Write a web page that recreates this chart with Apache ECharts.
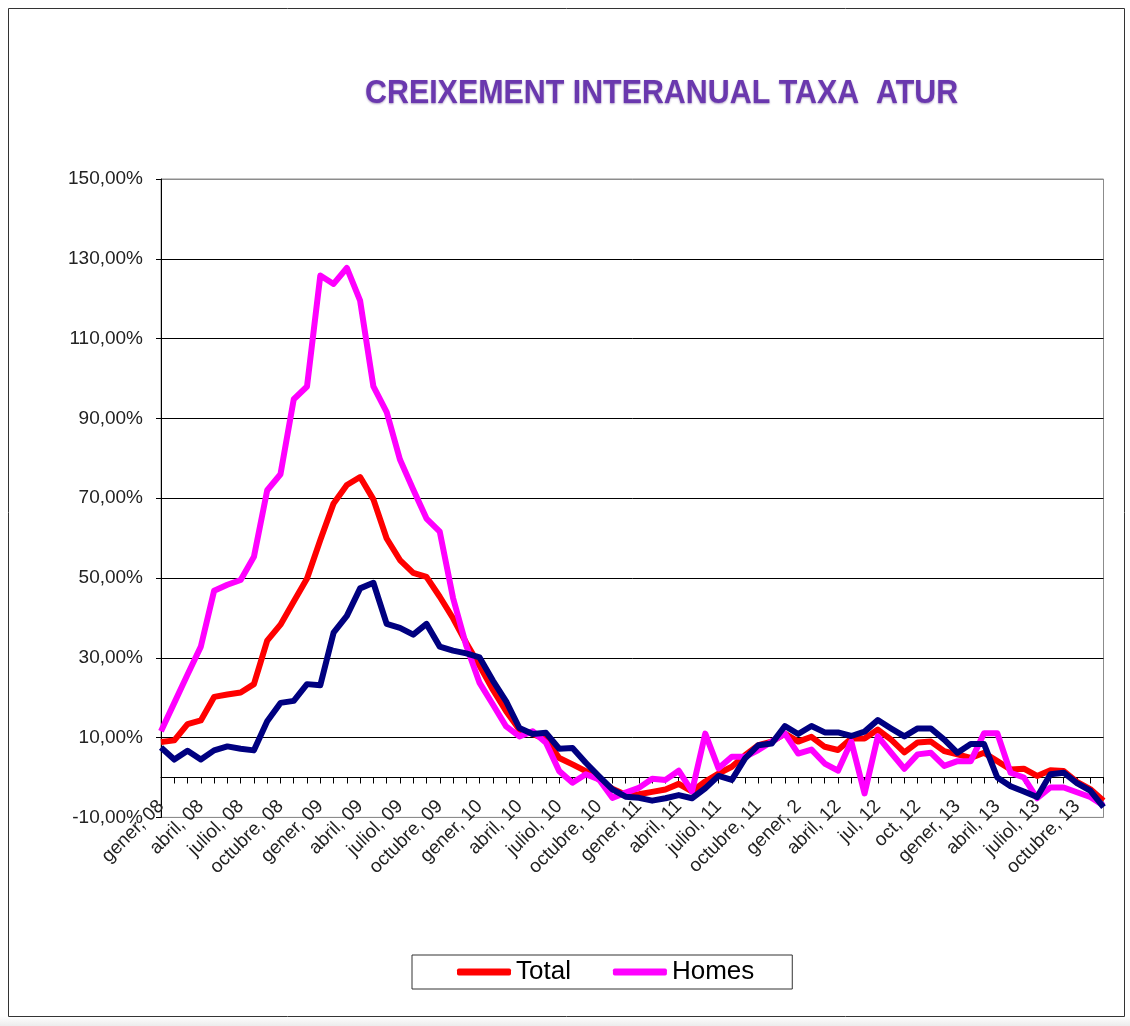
<!DOCTYPE html>
<html>
<head>
<meta charset="utf-8">
<script src="https://cdn.jsdelivr.net/npm/echarts@6/dist/echarts.min.js"></script>
<style>
html,body{margin:0;padding:0;background:#fff;}
#chart{width:1130px;height:1026px;}
</style>
</head>
<body>
<div id="chart"></div>
<script>
var chartTitle = 'CREIXEMENT INTERANUAL TAXA  ATUR';

var categories = [
  'gener, 08','febrer, 08','març, 08','abril, 08','maig, 08','juny, 08','juliol, 08','agost, 08','setembre, 08','octubre, 08','novembre, 08','desembre, 08',
  'gener, 09','febrer, 09','març, 09','abril, 09','maig, 09','juny, 09','juliol, 09','agost, 09','setembre, 09','octubre, 09','novembre, 09','desembre, 09',
  'gener, 10','febrer, 10','març, 10','abril, 10','maig, 10','juny, 10','juliol, 10','agost, 10','setembre, 10','octubre, 10','novembre, 10','desembre, 10',
  'gener, 11','febrer, 11','març, 11','abril, 11','maig, 11','juny, 11','juliol, 11','agost, 11','setembre, 11','octubre, 11','novembre, 11','desembre, 11',
  'gener, 2','febrer, 12','març, 12','abril, 12','maig, 12','juny, 12','jul, 12','agost, 12','setembre, 12','oct, 12','novembre, 12','desembre, 12',
  'gener, 13','febrer, 13','març, 13','abril, 13','maig, 13','juny, 13','juliol, 13','agost, 13','setembre, 13','octubre, 13','novembre, 13','desembre, 13'
];

var seriesNames = ['Total', 'Homes', 'Dones'];

var totalValues = [
  8.9, 9.3, 13.4, 14.3, 20.2, 20.8, 21.3, 23.4, 34.3, 38.3, 44.1, 49.9,
  59.5, 68.7, 73.3, 75.3, 69.7, 59.9, 54.5, 51.3, 50.3, 45.3, 39.9, 33.7,
  28.0, 22.0, 16.6, 12.0, 10.9, 9.5, 4.9, 3.3, 1.6, -0.5, -2.8, -4.3,
  -4.2, -3.6, -3.0, -1.6, -3.5, -1.0, 1.0, 2.7, 5.6, 8.1, 9.0, 11.0,
  9.0, 10.2, 7.7, 6.9, 9.8, 9.8, 12.0, 9.5, 6.3, 8.8, 9.0, 6.6,
  5.8, 4.9, 6.2, 4.1, 2.0, 2.2, 0.4, 1.8, 1.6, -1.1, -2.9, -5.8
];

var homesValues = [
  11.6, 18.7, 25.8, 32.8, 46.8, 48.3, 49.5, 55.3, 72.0, 76.0, 94.8, 98.0,
  125.8, 123.7, 127.7, 119.5, 98.0, 91.6, 79.7, 72.2, 64.9, 61.6, 45.0, 33.0,
  23.7, 18.3, 12.8, 10.3, 11.6, 8.7, 1.6, -1.3, 0.8, -0.5, -5.1, -3.8,
  -2.6, -0.3, -0.6, 1.7, -3.5, 11.0, 2.3, 5.2, 5.2, 6.9, 9.0, 11.0,
  6.0, 7.0, 3.5, 1.7, 9.0, -4.0, 10.3, 6.2, 2.2, 5.8, 6.2, 2.9,
  4.1, 4.1, 11.1, 11.1, 1.2, 0.0, -5.2, -2.5, -2.5, -3.7, -4.9, -7.0
];

var donesValues = [
  7.5, 4.5, 6.7, 4.5, 6.8, 7.8, 7.2, 6.8, 14.1, 18.7, 19.2, 23.4,
  23.1, 36.3, 40.5, 47.4, 48.8, 38.5, 37.5, 35.8, 38.5, 32.8, 31.8, 31.1,
  30.1, 24.3, 19.1, 12.4, 10.9, 11.2, 7.2, 7.4, 3.7, 0.3, -3.0, -4.8,
  -5.1, -5.8, -5.2, -4.4, -5.2, -2.7, 0.4, -0.6, 4.8, 8.1, 8.5, 12.9,
  10.9, 12.9, 11.3, 11.3, 10.4, 11.5, 14.4, 12.3, 10.3, 12.3, 12.3, 9.5,
  6.2, 8.4, 8.4, 0.0, -2.2, -3.5, -4.9, 0.8, 1.2, -1.4, -3.3, -7.4
];

var yMin = -10, yMax = 150, yStep = 20;

var chart = echarts.init(document.getElementById('chart'), null, {renderer: 'canvas'});

function pct(v) {
  return v.toFixed(2).replace('.', ',') + '%';
}

var option = {
  backgroundColor: '#ffffff',
  animation: false,
  graphic: [
    {
      type: 'rect', z: -10, silent: true,
      shape: {x: 0, y: 1016, width: 1130, height: 10},
      style: {fill: new echarts.graphic.LinearGradient(0, 0, 0, 1, [
        {offset: 0, color: '#ffffff'}, {offset: 1, color: '#ececec'}
      ])}
    },
    {
      type: 'rect', z: -9, silent: true,
      shape: {x: 8.5, y: 8.5, width: 1116, height: 1008},
      style: {fill: 'none', stroke: '#333', lineWidth: 1}
    },
    {
      type: 'text', silent: true,
      x: 365, y: 77, scaleX: 1.013, scaleY: 1.1,
      style: {
        x: 0, y: 0,
        text: chartTitle,
        font: 'bold 30px "Liberation Sans", Arial, sans-serif',
        fill: '#6A38AE',
        textShadowColor: 'rgba(70,30,120,0.45)',
        textShadowBlur: 2,
        textShadowOffsetY: 1
      }
    }
  ],
  legend: {
    data: ['Total', 'Homes'],
    left: 412, top: 955,
    orient: 'horizontal',
    icon: 'roundRect',
    itemWidth: 54, itemHeight: 7,
    itemGap: 42,
    padding: [4, 38, 4, 45],
    borderColor: '#333', borderWidth: 1,
    textStyle: {fontFamily: '"Liberation Sans", Arial, sans-serif', fontSize: 26, color: '#000', padding: [0, 0, 0, 0]}
  },
  grid: {
    left: 161, right: 26.5, top: 179, bottom: 208.6,
    show: true, borderColor: '#8c8c8c', borderWidth: 1,
    containLabel: false
  },
  xAxis: {
    type: 'category',
    data: categories,
    boundaryGap: false,
    axisLine: {show: true, onZero: true, lineStyle: {color: '#000', width: 1}},
    axisTick: {show: true, interval: 0, length: 6, inside: false, lineStyle: {color: '#000'}},
    axisLabel: {
      interval: 2, rotate: 45, margin: -14,
      fontFamily: '"Liberation Sans", Arial, sans-serif', fontSize: 19, color: '#222'
    },
    splitLine: {show: false}
  },
  yAxis: {
    type: 'value',
    min: yMin, max: yMax, interval: yStep,
    axisLine: {show: true, lineStyle: {color: '#000', width: 1}},
    axisTick: {show: true, length: 5, inside: false, lineStyle: {color: '#000'}},
    axisLabel: {
      margin: 18, formatter: function (v) { return pct(v); },
      fontFamily: '"Liberation Sans", Arial, sans-serif', fontSize: 19, color: '#222'
    },
    splitLine: {show: true, lineStyle: {color: ['#8c8c8c','#000','#000','#000','#000','#000','#000','#000','#8c8c8c'], width: 1}}
  },
  series: [
    {name: seriesNames[0], type: 'line', data: totalValues, showSymbol: false, symbol: 'none',
     lineStyle: {color: '#ff0000', width: 6, join: 'round'}, itemStyle: {color: '#ff0000'}, z: 2},
    {name: seriesNames[1], type: 'line', data: homesValues, showSymbol: false, symbol: 'none',
     lineStyle: {color: '#ff00ff', width: 6, join: 'round'}, itemStyle: {color: '#ff00ff'}, z: 3},
    {name: seriesNames[2], type: 'line', data: donesValues, showSymbol: false, symbol: 'none',
     lineStyle: {color: '#000080', width: 6, join: 'round'}, itemStyle: {color: '#000080'}, z: 4}
  ]
};

chart.setOption(option);
</script>
</body>
</html>
